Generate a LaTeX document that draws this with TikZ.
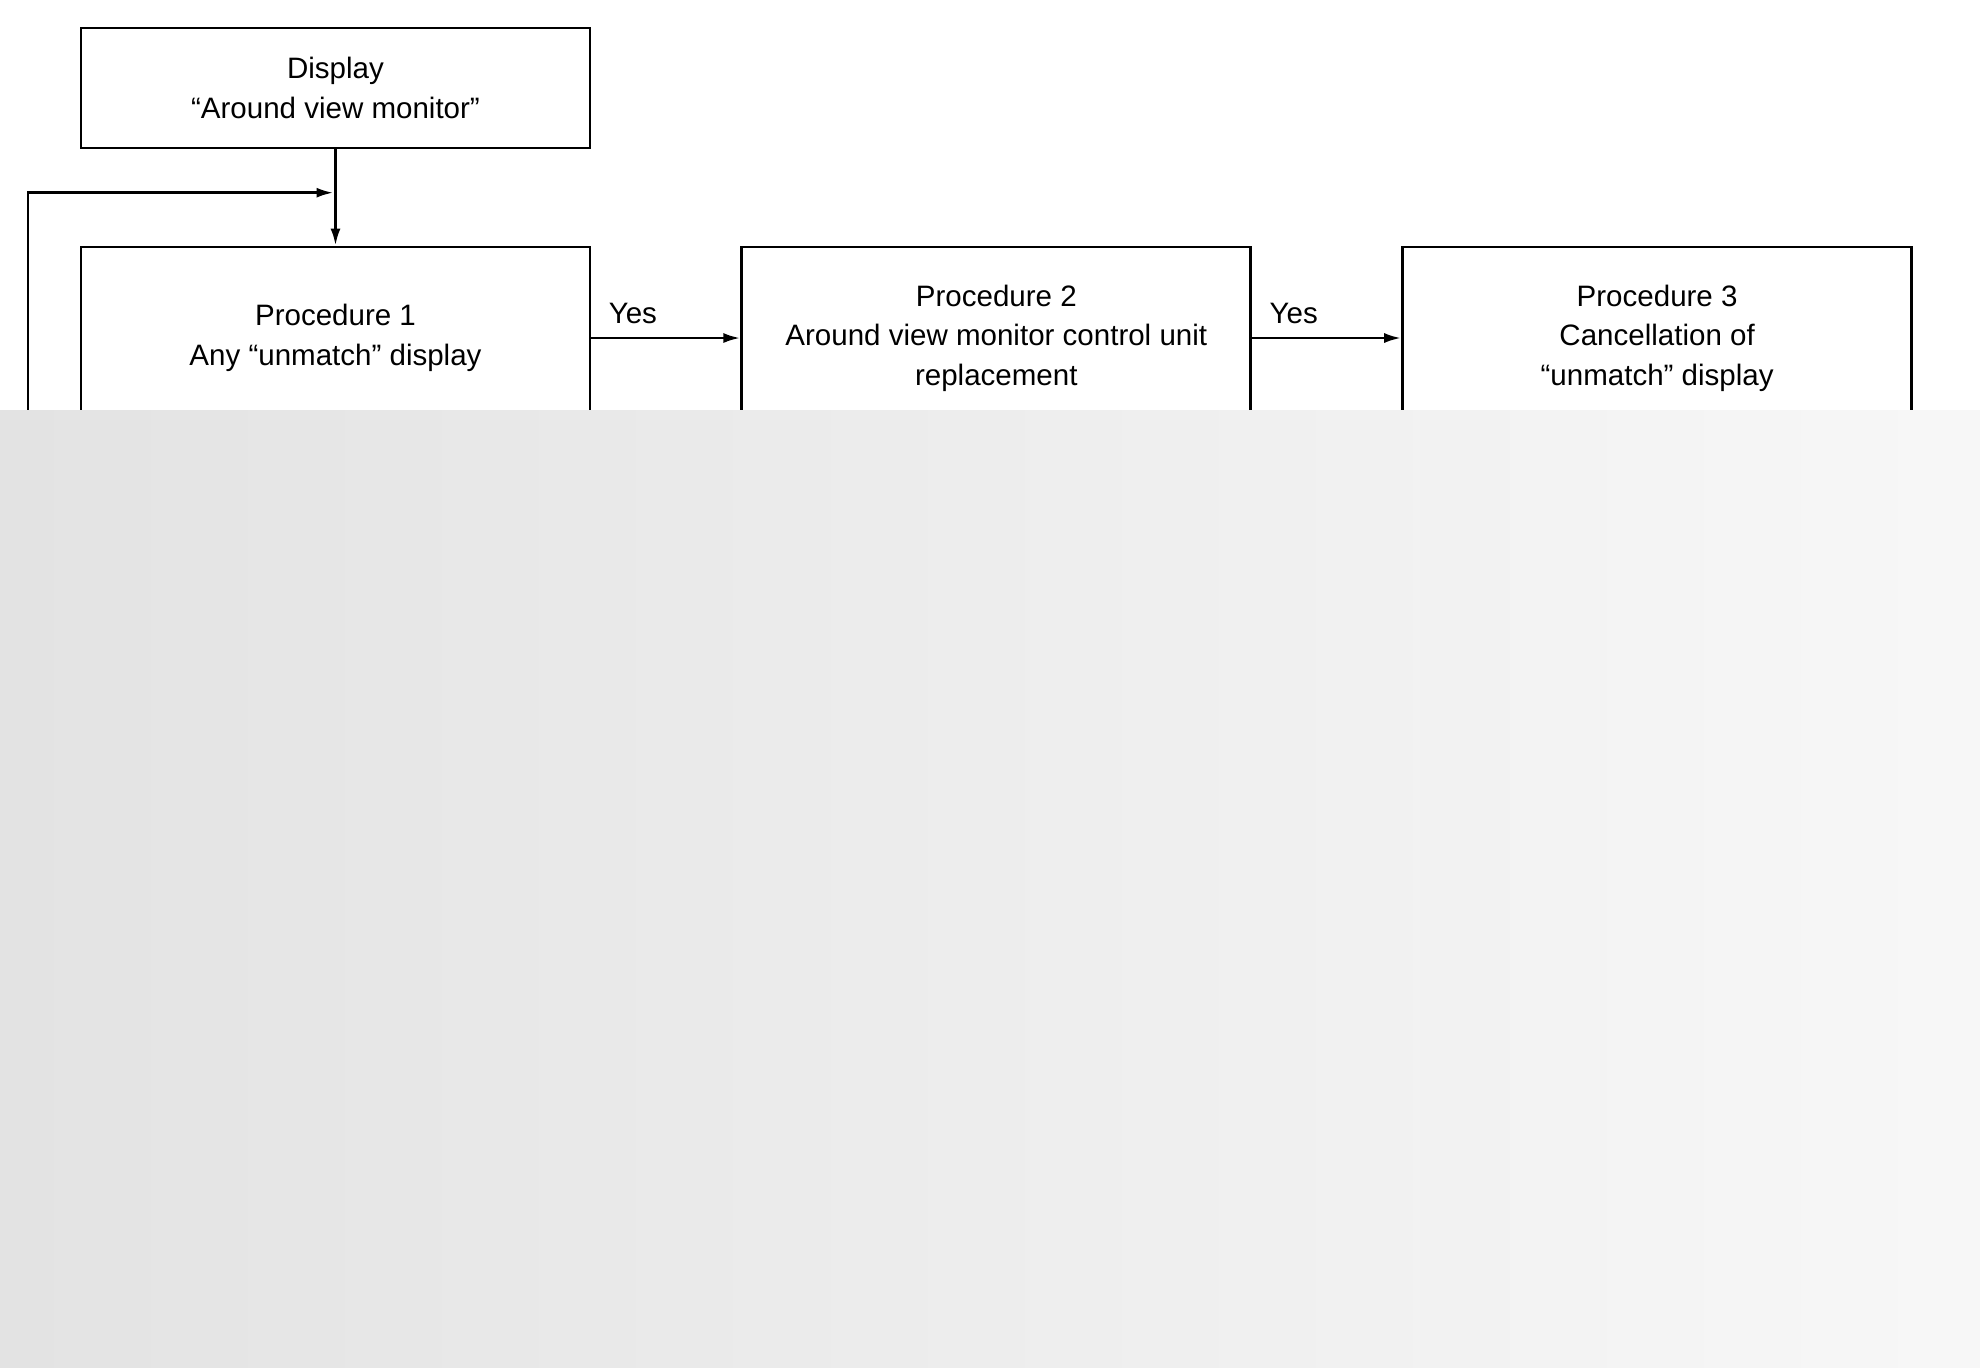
\documentclass[tikz,border=0pt]{standalone}
\usepackage{fontspec}
\setmainfont{Liberation Sans}
\usetikzlibrary{positioning,arrows.meta,calc}
\tikzset{
 box/.style={draw,line width=0.8pt,minimum width=5.09cm,align=center,inner sep=0pt,
  font=\fontsize{8.4}{11.2}\selectfont},
 flow/.style={line width=0.8pt,-{Latex[length=1.7mm,width=1mm]}},
 yeslbl/.style={above right,inner sep=0pt,xshift=0.16cm,yshift=0.13cm,font=\fontsize{8.4}{11.2}\selectfont}
}
\begin{document}
\begin{tikzpicture}
 \useasboundingbox (0,0) rectangle (19.8,-13.67);
 \node[box,minimum height=1.2cm] (disp) at (3.355,-0.88) {Display\\“Around view monitor”};
 \node[box,minimum height=1.82cm] (proc1) at (3.355,-3.38) {Procedure 1\\Any “unmatch” display};
 \node[box,minimum height=1.82cm,right=1.49cm of proc1] (proc2) {Procedure 2\\Around view monitor control unit\\replacement};
 \node[box,minimum height=1.82cm,right=1.49cm of proc2] (proc3) {Procedure 3\\Cancellation of\\“unmatch” display};
 \coordinate (join) at ($(disp.south)!0.45!(proc1.north)$);
 \coordinate (back) at (0.28,-4.6);
 \draw[flow] (disp) -- (proc1);
 \draw[flow,shorten >=0.02cm] (back) |- (join);
 \draw[flow] (proc1) -- (proc2) node[pos=0,yeslbl] {Yes};
 \draw[flow] (proc2) -- (proc3) node[pos=0,yeslbl] {Yes};
 % covered lower part
 \shade[left color=black!11,right color=black!3] (0,-4.10) rectangle (19.8,-13.67);
\end{tikzpicture}
\end{document}
